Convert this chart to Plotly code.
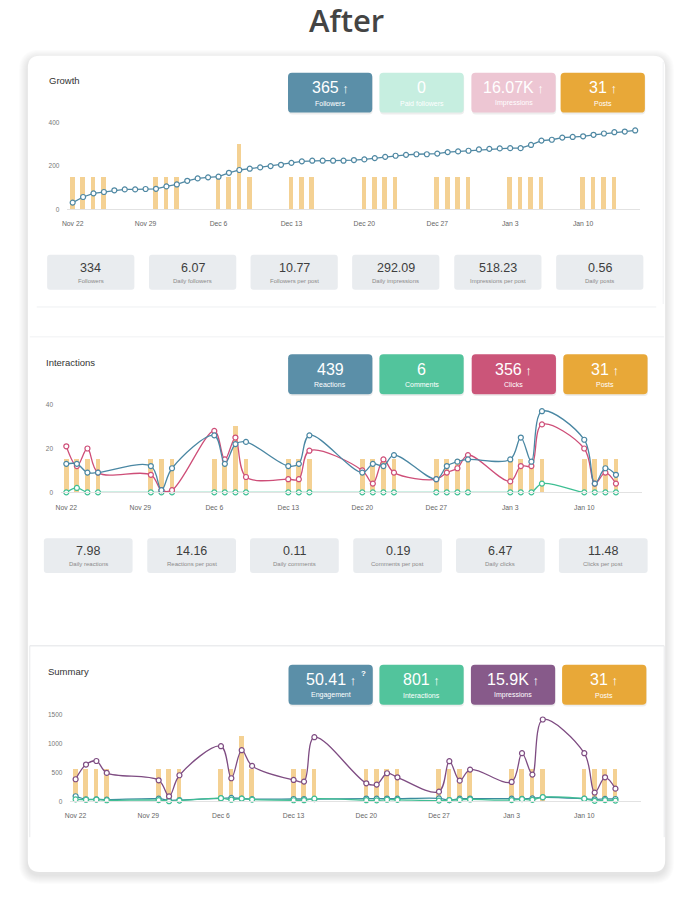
import pandas as pd
import plotly.graph_objects as go
from plotly.subplots import make_subplots

W, H = 686, 897

# ---------------- data ----------------
followers = [31, 57, 74, 80, 88, 92, 92, 94, 95, 106, 115, 132, 143, 148, 151, 169, 182, 188,
             194, 200, 206, 215, 222, 225, 225, 225, 225, 228, 231, 237, 243, 248, 252, 255,
             255, 258, 265, 268, 271, 277, 280, 282, 283, 283, 298, 318, 322, 332, 335, 338,
             345, 351, 357, 360, 365]

post_days = ['2020-11-22', '2020-11-23', '2020-11-24', '2020-11-25', '2020-11-30', '2020-12-01',
             '2020-12-02', '2020-12-06', '2020-12-07', '2020-12-08', '2020-12-09', '2020-12-13',
             '2020-12-14', '2020-12-15', '2020-12-20', '2020-12-21', '2020-12-22', '2020-12-23',
             '2020-12-27', '2020-12-28', '2020-12-29', '2020-12-30', '2021-01-03', '2021-01-04',
             '2021-01-05', '2021-01-06', '2021-01-10', '2021-01-11', '2021-01-12', '2021-01-13']
posts = [1, 1, 1, 1, 1, 1, 1, 1, 1, 2, 1, 1, 1, 1, 1, 1, 1, 1, 1, 1, 1, 1, 1, 1, 1, 1, 1, 1, 1, 1]

reactions = [13, 13, 9, 9, 12, 1, 11, 26, 13, 22, 23, 12, 13, 26, 9, 13, 12, 17, 6, 12, 14, 15,
             15, 25, 14, 37, 24, 4, 11, 8]
clicks = [21, 12, 20, 9, 8, 1, 1, 28, 15, 25, 7, 6, 6, 19, 10, 4, 15, 9, 6, 9, 11, 17,
          5, 12, 12, 31, 20, 4, 9, 4]
comments = [0, 2, 0, 0, 0, 0, 0, 0, 0, 0, 0, 0, 0, 0, 0, 0, 0, 0, 0, 0, 0, 0,
            0, 0, 0, 4, 0, 0, 0, 0]

impressions = [383, 638, 700, 493, 365, 87, 452, 957, 400, 887, 615, 371, 342, 1113, 313, 290,
               487, 417, 168, 696, 359, 551, 336, 835, 464, 1420, 835, 151, 417, 220]
interactions = [34, 27, 29, 18, 20, 2, 12, 54, 28, 47, 30, 18, 19, 45, 19, 17, 27, 26, 12, 21,
                25, 32, 20, 37, 26, 72, 44, 8, 20, 12]
engagement = [88, 36, 36, 30, 45, 18, 22, 52, 60, 48, 38, 40, 40, 38, 48, 46, 48, 46, 50, 22,
              45, 48, 45, 42, 50, 70, 45, 35, 42, 40]

tick_dates = ['2020-11-22', '2020-11-29', '2020-12-06', '2020-12-13', '2020-12-20',
              '2020-12-27', '2021-01-03', '2021-01-10']
tick_labels = ['Nov 22', 'Nov 29', 'Dec 6', 'Dec 13', 'Dec 20', 'Dec 27', 'Jan 3', 'Jan 10']

growth_kpi_values = ['365', '0', '16.07K', '31']
growth_kpi_labels = ['Followers', 'Paid followers', 'Impressions', 'Posts']
growth_kpi_up = [True, False, True, True]
growth_stat_values = ['334', '6.07', '10.77', '292.09', '518.23', '0.56']
growth_stat_labels = ['Followers', 'Daily followers', 'Followers per post', 'Daily impressions',
                      'Impressions per post', 'Daily posts']

inter_kpi_values = ['439', '6', '356', '31']
inter_kpi_labels = ['Reactions', 'Comments', 'Clicks', 'Posts']
inter_kpi_up = [False, False, True, True]
inter_stat_values = ['7.98', '14.16', '0.11', '0.19', '6.47', '11.48']
inter_stat_labels = ['Daily reactions', 'Reactions per post', 'Daily comments',
                     'Comments per post', 'Daily clicks', 'Clicks per post']

summary_kpi_values = ['50.41', '801', '15.9K', '31']
summary_kpi_labels = ['Engagement', 'Interactions', 'Impressions', 'Posts']
summary_kpi_up = [True, True, True, True]

dates = pd.date_range('2020-11-22', periods=len(followers), freq='D')

# ---------------- helpers ----------------
FONT = 'Liberation Sans, Arial, sans-serif'
BAR_COLOR = '#F4D193'
X_RANGE = ['2020-11-21 12:00', '2021-01-15 12:00']


def fx(x):
    return x / W


def fy(y):
    return 1 - y / H


def rounded(x0, y0, x1, y1, r):
    rx, ry = r / W, r / H
    a, b, c, d = fx(x0), fy(y0), fx(x1), fy(y1)
    return (f"M {a + rx},{b} L {c - rx},{b} Q {c},{b} {c},{b - ry} L {c},{d + ry} "
            f"Q {c},{d} {c - rx},{d} L {a + rx},{d} Q {a},{d} {a},{d + ry} "
            f"L {a},{b - ry} Q {a},{b} {a + rx},{b} Z")


shapes = []
annotations = []


def box(x0, y0, x1, y1, r, color):
    shapes.append(dict(type='path', path=rounded(x0, y0, x1, y1, r), xref='paper', yref='paper',
                       fillcolor=color, layer='below', line=dict(width=0)))


def hline(x0, x1, y, color):
    shapes.append(dict(type='line', xref='paper', yref='paper', x0=fx(x0), x1=fx(x1),
                       y0=fy(y), y1=fy(y), line=dict(color=color, width=1), layer='below'))


def vline(x, y0, y1, color):
    shapes.append(dict(type='line', xref='paper', yref='paper', x0=fx(x), x1=fx(x),
                       y0=fy(y0), y1=fy(y1), line=dict(color=color, width=1), layer='below'))


def text(x, y, s, size, color, family=FONT, xanchor='center', weight=None):
    f = dict(size=size, color=color, family=family)
    if weight:
        f['weight'] = weight
    annotations.append(dict(x=fx(x), y=fy(y), xref='paper', yref='paper', text=s,
                            showarrow=False, xanchor=xanchor, yanchor='middle', font=f))


def kpi_row(xs, y0, values, labels, ups, colors, w=85, h=40):
    for x, v, lab, up, col in zip(xs, values, labels, ups, colors):
        box(x + 0.5, y0 + 1.5, x + w + 0.5, y0 + h + 1.8, 4, 'rgba(0,0,0,0.07)')
        box(x, y0, x + w, y0 + h, 4, col)
        label = v + ("<span style='font-size:13px'> ↑</span>" if up else '')
        text(x + w / 2, y0 + 15, label, 16, 'white')
        text(x + w / 2, y0 + 30.5, lab, 7, 'white')


def stat_row(xs, y0, values, labels, w=88, h=35):
    for x, v, lab in zip(xs, values, labels):
        box(x, y0, x + w, y0 + h, 3, '#E9ECEF')
        text(x + w / 2, y0 + 12.8, v, 12.5, '#3E3E3E')
        text(x + w / 2, y0 + 26, lab, 6, '#8A8A8A')


def series(x, y, color, shape='spline'):
    return go.Scatter(x=x, y=y, mode='lines+markers', cliponaxis=False,
                      line=dict(color=color, width=1.3, shape=shape, smoothing=1),
                      marker=dict(symbol='circle', size=5, color='white',
                                  line=dict(color=color, width=1.2)))


def post_bars():
    return go.Bar(x=post_days, y=posts, marker_color=BAR_COLOR, marker_line_width=0,
                  width=0.45 * 86400000)


# ---------------- background card ----------------
for g in range(9, 0, -1):
    box(22 - g, 56 - g + 3, 665 + g, 875 + g + 3, 12 + g, 'rgba(0,0,0,0.011)')
box(22, 56, 665, 875, 12, 'white')
hline(31, 656, 308, '#EFF0F2')
hline(24, 664, 338, '#F0F1F3')
vline(663, 62, 305, '#F1F2F4')
hline(24, 664, 648, '#E1E3E6')
vline(24, 648, 840, '#E9EAEC')
vline(664, 648, 840, '#E9EAEC')

# ---------------- figure ----------------
fig = make_subplots(rows=3, cols=1, specs=[[{'secondary_y': True}]] * 3)

fig.add_trace(post_bars(), row=1, col=1, secondary_y=False)
fig.add_trace(series(dates, followers, '#4F88A3', shape='linear'), row=1, col=1, secondary_y=True)

fig.add_trace(post_bars(), row=2, col=1, secondary_y=False)
fig.add_trace(series(post_days, comments, '#3EBF93'), row=2, col=1, secondary_y=True)
fig.add_trace(series(post_days, clicks, '#CE4E78'), row=2, col=1, secondary_y=True)
fig.add_trace(series(post_days, reactions, '#4A87A3'), row=2, col=1, secondary_y=True)

fig.add_trace(post_bars(), row=3, col=1, secondary_y=False)
fig.add_trace(series(post_days, engagement, '#3C8C9E'), row=3, col=1, secondary_y=True)
fig.add_trace(series(post_days, interactions, '#40BF94'), row=3, col=1, secondary_y=True)
fig.add_trace(series(post_days, impressions, '#7E4C82'), row=3, col=1, secondary_y=True)

xaxis_style = dict(type='date', range=X_RANGE, tickvals=tick_dates, ticktext=tick_labels,
                   showgrid=False, zeroline=False, showline=True, linecolor='#E2E2E2',
                   linewidth=1, ticks='', ticklabelstandoff=8,
                   tickfont=dict(size=6.8, color='#666', family=FONT))
posts_axis = dict(range=[0, 2.78], visible=False, showgrid=False, zeroline=False)
value_axis = dict(side='left', showgrid=False, zeroline=False, showline=False, ticks='',
                  ticklabelstandoff=7, tickfont=dict(size=6.5, color='#777', family=FONT))

fig.update_layout(
    width=W, height=H,
    margin=dict(l=0, r=0, t=0, b=0),
    paper_bgcolor='white', plot_bgcolor='rgba(0,0,0,0)',
    showlegend=False, bargap=0,
    xaxis=dict(xaxis_style, domain=[fx(62), fx(640)]),
    xaxis2=dict(xaxis_style, domain=[fx(55.5), fx(642)]),
    xaxis3=dict(xaxis_style, domain=[fx(65), fx(641)]),
    yaxis=dict(posts_axis, domain=[fy(210), fy(210 - 420 * 0.2167)]),
    yaxis2=dict(value_axis, range=[0, 420], tickvals=[0, 200, 400]),
    yaxis3=dict(posts_axis, domain=[fy(494), fy(494 - 42 * 2.2)]),
    yaxis4=dict(value_axis, range=[0, 42], tickvals=[0, 20, 40]),
    yaxis5=dict(posts_axis, domain=[fy(804), fy(804 - 1560 * 0.0578)]),
    yaxis6=dict(value_axis, range=[0, 1560], tickvals=[0, 500, 1000, 1500]),
)

# ---------------- text / boxes ----------------
text(343, 20.5, 'After', 31, '#444444', family='Open Sans, Noto Sans, sans-serif', weight=600)

text(41, 81, 'Growth', 9.5, '#333', xanchor='left')
kpi_row([284.5, 376.7, 469.5, 559.5], 73, growth_kpi_values, growth_kpi_labels, growth_kpi_up,
        ['#5B8FA8', '#C6EEE0', '#EDC6D3', '#E8A838'])
stat_row([41.5, 144.3, 246.7, 349.2, 452.2, 555], 255.7, growth_stat_values, growth_stat_labels)

text(38.5, 364, 'Interactions', 9.5, '#333', xanchor='left')
kpi_row([284.6, 376.7, 469.8, 562.2], 355.5, inter_kpi_values, inter_kpi_labels, inter_kpi_up,
        ['#5B8FA8', '#52C49C', '#CB5579', '#E8A838'])
stat_row([38.2, 142.5, 246.2, 350.3, 454, 557.8], 540, inter_stat_values, inter_stat_labels,
         w=89.5)

text(40.6, 674, 'Summary', 9.5, '#333', xanchor='left')
kpi_row([285, 376.7, 469, 561], 667, summary_kpi_values, summary_kpi_labels, summary_kpi_up,
        ['#5B8FA8', '#52C49C', '#875A8A', '#E8A838'])
text(361, 676, '?', 8, 'white', weight='bold')

fig.update_layout(shapes=shapes, annotations=annotations)

fig.write_html("out.html", config={'displayModeBar': False},
               post_script="document.body.style.margin='0';")
